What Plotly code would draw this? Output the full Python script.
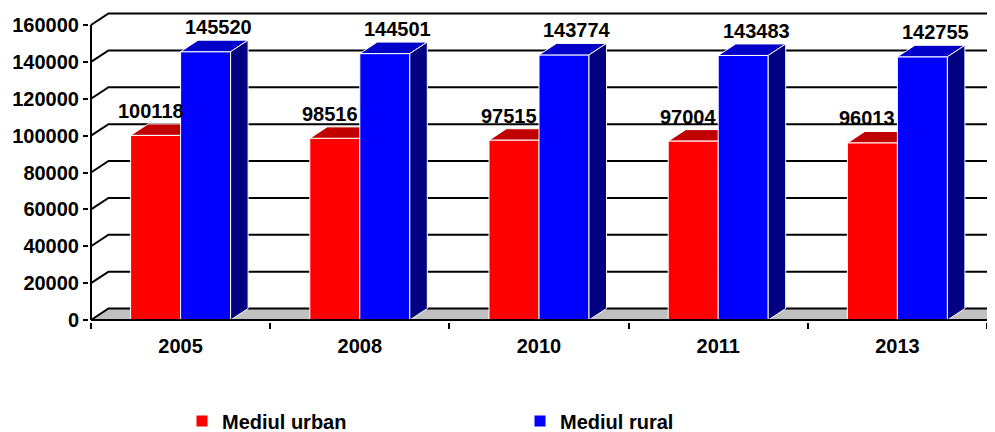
import plotly.graph_objects as go

# ---- data ----
years = ["2005", "2008", "2010", "2011", "2013"]
urban = [100118, 98516, 97515, 97004, 96013]
rural = [145520, 144501, 143774, 143483, 142755]
y_ticks = [0, 20000, 40000, 60000, 80000, 100000, 120000, 140000, 160000]
series_names = ["Mediul urban", "Mediul rural"]

# ---- geometry helpers (screen pixel positions of the plot) ----
OFF = 8                     # default page body margin
SW, SH = 995, 432           # screen window
W, H = SW - OFF, SH - OFF   # figure size
PL, PR, PT, PB = 89, 995, 12, 322   # plot area in screen px
KX = 179.2                 # px per category
KY = 295 / 160000          # px per value unit
X0 = 0.5 - 2 / KX
X1 = X0 + (PR - PL) / KX
Y0 = -2 / KY
Y1 = Y0 + (PB - PT) / KY
DX = 17.5 / KX             # depth offset in data units
DY = 11.5 / KY
BW = 50 / KX               # bar width

FONT = "Arial, 'Liberation Sans', sans-serif"
RED, RED_TOP = "#FF0000", "#C00000"
BLUE, BLUE_TOP, BLUE_SIDE = "#0000FF", "#0000C8", "#000080"

xs = list(range(1, len(years) + 1))
n = len(years)
xa, xb = 0.5, n + 0.5

shapes = []
# floor
shapes.append(dict(type="path", xref="x", yref="y", layer="below",
                   path=f"M{xa},0 L{xb},0 L{xb+DX},{DY} L{xa+DX},{DY} Z",
                   fillcolor="#C0C0C0", line=dict(width=0)))
# back-wall gridlines with left-wall diagonals
for v in y_ticks:
    shapes.append(dict(type="path", xref="x", yref="y", layer="below",
                       path=f"M{xa},{v} L{xa+DX},{v+DY} L{X1+1},{v+DY}",
                       line=dict(color="black", width=2)))
# floor right edge
shapes.append(dict(type="line", xref="x", yref="y", layer="below",
                   x0=xb, y0=0, x1=xb + DX, y1=DY,
                   line=dict(color="black", width=2)))
# red top faces (partly hidden behind blue bars)
for x, v in zip(xs, urban):
    l, r = x - BW, x
    shapes.append(dict(type="path", xref="x", yref="y", layer="below",
                       path=f"M{l},{v} L{r},{v} L{r+DX},{v+DY} L{l+DX},{v+DY} Z",
                       fillcolor=RED_TOP, line=dict(color="white", width=1)))
# blue top & side faces
for x, v in zip(xs, rural):
    l, r = x, x + BW
    shapes.append(dict(type="path", xref="x", yref="y", layer="above",
                       path=f"M{l},{v} L{r},{v} L{r+DX},{v+DY} L{l+DX},{v+DY} Z",
                       fillcolor=BLUE_TOP, line=dict(color="white", width=1)))
    shapes.append(dict(type="path", xref="x", yref="y", layer="above",
                       path=f"M{r},0 L{r},{v} L{r+DX},{v+DY} L{r+DX},{DY} Z",
                       fillcolor=BLUE_SIDE, line=dict(color="white", width=1)))
# axis lines
shapes.append(dict(type="line", xref="x", yref="y", layer="above",
                   x0=xa, y0=0, x1=xb, y1=0, line=dict(color="black", width=2)))
shapes.append(dict(type="line", xref="x", yref="y", layer="above",
                   x0=xa, y0=0, x1=xa, y1=y_ticks[-1], line=dict(color="black", width=2)))

annotations = []
for x, v in zip(xs, urban):
    annotations.append(dict(x=x - BW / 2 - 5 / KX, y=v + DY, xref="x", yref="y",
                            text=f"{v}", showarrow=False, yanchor="bottom",
                            font=dict(family=FONT, size=20, color="black", weight="bold")))
for x, v in zip(xs, rural):
    annotations.append(dict(x=x + BW / 2 + 13 / KX, y=v + DY, xref="x", yref="y",
                            text=f"{v}", showarrow=False, yanchor="bottom",
                            font=dict(family=FONT, size=20, color="black", weight="bold")))

fig = go.Figure()
fig.add_trace(go.Bar(x=xs, y=urban, name=series_names[0], width=BW, offset=-BW,
                     marker=dict(color=RED, line=dict(color="white", width=1))))
fig.add_trace(go.Bar(x=xs, y=rural, name=series_names[1], width=BW, offset=0,
                     marker=dict(color=BLUE, line=dict(color="white", width=1))))

fig.update_layout(
    template="none",
    width=W, height=H,
    margin=dict(l=PL - OFF, r=SW - PR, t=PT - OFF, b=SH - PB, autoexpand=False),
    paper_bgcolor="white", plot_bgcolor="white",
    barmode="overlay",
    shapes=shapes, annotations=annotations,
    font=dict(family=FONT, size=20, color="black", weight="bold"),
    showlegend=True,
    legend=dict(orientation="h", x=(182 - PL) / (PR - PL), xanchor="left",
                y=(PB - 421) / (PB - PT), yanchor="middle",
                entrywidth=293, entrywidthmode="pixels",
                font=dict(family=FONT, size=20, color="black", weight="bold"),
                traceorder="normal", bgcolor="rgba(0,0,0,0)"),
    xaxis=dict(range=[X0, X1], tickmode="array", tickvals=xs, ticktext=years,
               showgrid=False, zeroline=False, showline=False, automargin=False,
               ticks="outside", ticklen=6, tickcolor="rgba(0,0,0,0)",
               tickfont=dict(family=FONT, size=20, color="black", weight="bold"),
               minor=dict(tickmode="array", tickvals=[i + 0.5 for i in range(n + 1)],
                          ticks="outside", ticklen=6, tickwidth=2, tickcolor="black",
                          showgrid=False),
               fixedrange=True),
    yaxis=dict(range=[Y0, Y1], tickmode="array", tickvals=y_ticks,
               ticktext=[str(v) for v in y_ticks],
               showgrid=False, zeroline=False, showline=False, automargin=False,
               ticks="outside", ticklen=5, tickwidth=2, tickcolor="black",
               tickfont=dict(family=FONT, size=20, color="black", weight="bold"),
               fixedrange=True),
)

fig.write_html("out.html")
